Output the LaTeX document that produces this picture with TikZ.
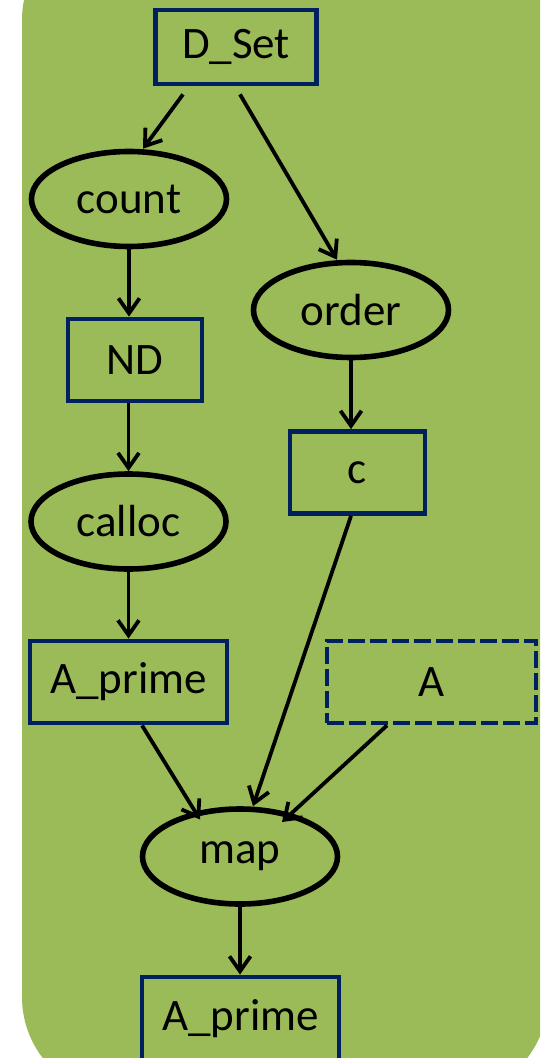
\documentclass[tikz,border=0pt]{standalone}
\usepackage{fontspec}
\setmainfont{Carlito}
\usetikzlibrary{shapes.geometric,arrows.meta}
\definecolor{leaf}{HTML}{9BBB59}
\definecolor{navy}{HTML}{002060}
\begin{document}
\begin{tikzpicture}[>={Straight Barb[length=7.5pt,width=10.5pt]}, x=0.5pt, y=-0.5pt]
\tikzstyle{every node}=[font=\fontsize{22.5}{27}\selectfont, inner sep=0pt]
\tikzstyle{data}=[rectangle, draw=navy, line width=2.4pt, minimum height=41pt]
\tikzstyle{func}=[ellipse, draw=black, line width=2.8pt, minimum width=97.5pt, minimum height=47.5pt]
\tikzstyle{flow}=[->, line width=1.9pt]
\useasboundingbox (0,0) rectangle (540,1058);
\clip (0,0) rectangle (540,1058);
\fill[leaf, rounded corners=50pt] (22,-80) rectangle (548,1097);
%
\node[data, minimum width=80.5pt, minimum height=37pt](dset) at (236,47) {D\_Set};
\node[func](count) at (129,199) {count};
\node[func](order) at (351,310) {order};
\node[data, minimum width=67pt](nd) at (135,360) {ND};
\node[data, minimum width=67.5pt](c) at (357.5,472.5) {c};
\node[func](calloc) at (128.5,521.5) {calloc};
\node[data, minimum width=98.5pt](ap1) at (128.5,682) {A\_prime};
\node[data, minimum width=104.5pt, dash pattern=on 8.5pt off 2.5pt](a) at (431.5,682) {A};
\node[func](map) at (240,856.5) {map};
\node[data, minimum width=98.5pt, minimum height=42pt](ap2) at (240.5,1019) {A\_prime};
%
\draw[flow] ([shift={(-53,8)}]dset.south) -- ([shift={(14,0)}]count.north);
\draw[flow] ([shift={(4,8)}]dset.south) -- ([shift={(-14,0)}]order.north);
\draw[flow] (count.south) -- (count.south |- nd.north);
\draw[flow] (calloc.north |- nd.south) -- (calloc.north);
\draw[flow] (order.south) -- (order.south |- c.north);
\draw[flow] (calloc.south) -- (ap1.north);
\draw[flow] (order.south |- c.south) -- ([shift={(13,0)}]map.north);
\draw[flow] ([shift={(13.5,0)}]ap1.south) -- ([shift={(-40,-37)}]map.center);
\draw[flow] ([shift={(-44.5,0)}]a.south) -- ([shift={(42,-34.5)}]map.center);
\draw[flow] (map.south) -- (map.south |- ap2.north);
\end{tikzpicture}
\end{document}
